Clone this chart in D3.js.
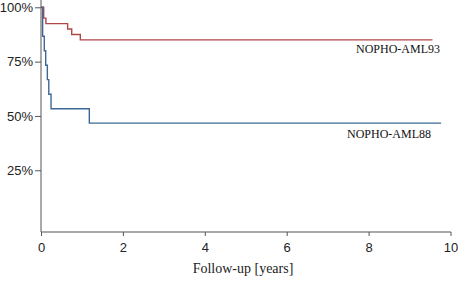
<!DOCTYPE html>
<html>
<head>
<meta charset="utf-8">
<script src="https://cdn.jsdelivr.net/npm/d3@7"></script>
<style>
  body { margin: 0; background: #fff; }
  .axis path, .axis line { stroke: #555; }
  .axis text { font-family: "Liberation Sans", Arial, sans-serif; font-size: 13px; fill: #222; }
</style>
</head>
<body>
<script>
// survival steps: time in years, survival fraction
var aml93Times = [0, 0.066, 0.12, 0.65, 0.75, 0.96, 9.56];
var aml93Surv  = [1, 0.95, 0.925, 0.90, 0.875, 0.85, 0.85];
var aml88Times = [0, 0.04, 0.08, 0.115, 0.155, 0.19, 0.245, 1.18, 9.77];
var aml88Surv  = [1, 0.867, 0.80, 0.733, 0.667, 0.60, 0.533, 0.467, 0.467];
var xTicks = [0, 2, 4, 6, 8, 10];
var yTicks = [0.25, 0.5, 0.75, 1];

var width = 458, height = 282;
var svg = d3.select("body").append("svg")
    .attr("width", width).attr("height", height);

var x = d3.scaleLinear().domain([0, 10]).range([41, 450.5]);
var y = d3.scaleLinear().domain([0, 1]).range([224.6, 7.3]);

// axes
svg.append("g")
    .attr("class", "axis")
    .attr("transform", "translate(0,232)")
    .call(d3.axisBottom(x).tickValues(xTicks).tickSize(4).tickSizeOuter(0).tickPadding(7))
    .call(function(g) { g.select(".domain").attr("d", "M41,0H451"); });

svg.append("g")
    .attr("class", "axis")
    .attr("transform", "translate(41,0)")
    .call(d3.axisLeft(y).tickValues(yTicks).tickFormat(d3.format(".0%")).tickSize(6).tickSizeOuter(0).tickPadding(2))
    .call(function(g) { g.select(".domain").attr("d", "M0,0V232"); });

svg.append("text")
    .attr("x", 243).attr("y", 273)
    .attr("text-anchor", "middle")
    .style("font-family", "'Liberation Serif', 'Times New Roman', serif")
    .style("font-size", "14px")
    .attr("fill", "#222")
    .text("Follow-up [years]");

var step = d3.line()
    .x(function(d) { return x(d[0]); })
    .y(function(d) { return y(d[1]); })
    .curve(d3.curveStepAfter);

function drawCurve(times, surv, color, label, lx, ly) {
  var pts = times.map(function(t, i) { return [t, surv[i]]; });
  svg.append("path")
      .datum(pts)
      .attr("d", step)
      .attr("fill", "none")
      .attr("stroke", color)
      .attr("stroke-width", 1.4);
  svg.append("text")
      .attr("x", lx).attr("y", ly)
      .attr("text-anchor", "end")
      .style("font-family", "'Liberation Serif', 'Times New Roman', serif")
      .style("font-size", "12px")
      .attr("fill", "#111")
      .text(label);
}

drawCurve(aml93Times, aml93Surv, "#b2474a", "NOPHO-AML93", 440, 53);
drawCurve(aml88Times, aml88Surv, "#3c6896", "NOPHO-AML88", 431, 138);
</script>
</body>
</html>
